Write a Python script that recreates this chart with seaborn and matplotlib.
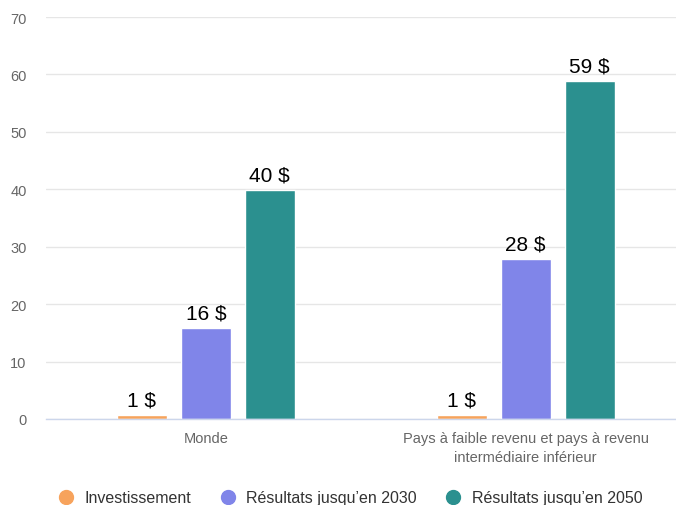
import matplotlib
matplotlib.use("Agg")
import matplotlib.pyplot as plt
import seaborn as sns
import pandas as pd
from matplotlib.lines import Line2D

categories = ["Monde", "Pays à faible revenu et pays à revenu\nintermédiaire inférieur"]
series = ["Investissement", "Résultats jusqu’en 2030", "Résultats jusqu’en 2050"]
investissement = [0.7, 0.7]
res_2030 = [15.8, 27.8]
res_2050 = [39.8, 58.8]
colors = ["#f7a35c", "#8085e9", "#2b908f"]
yticks = [0, 10, 20, 30, 40, 50, 60, 70]

rows = []
for s, vals in zip(series, [investissement, res_2030, res_2050]):
    for c, v in zip(categories, vals):
        rows.append({"cat": c, "serie": s, "val": v})
df = pd.DataFrame(rows)

sns.set_style("white")
plt.rcParams["font.family"] = ["Liberation Sans", "DejaVu Sans"]

fig = plt.figure(figsize=(6.76, 5.06), dpi=100)
ax = fig.add_axes([46/676, 86/506, 1 - 46/676, (420-18)/506])

sns.barplot(data=df, x="cat", y="val", hue="serie", order=categories,
            hue_order=series, palette=colors, width=0.6, gap=0.22,
            saturation=1, ax=ax, legend=False, errorbar=None)

for cont in ax.containers:
    ax.bar_label(cont, labels=[f"{round(b.get_height()):.0f} $" for b in cont],
                 padding=4, fontsize=15, color="#000000")

ax.set_xlim(-0.5, 1.47)
ax.set_ylim(0, 70)
ax.set_yticks(yticks)
ax.set_yticklabels([str(t) for t in yticks])
ax.yaxis.grid(True, color="#e6e6e6", linewidth=1)
ax.set_axisbelow(True)
for sp in ["top", "right", "left"]:
    ax.spines[sp].set_visible(False)
ax.spines["bottom"].set_color("#ccd6eb")
ax.spines["bottom"].set_linewidth(1)
ax.tick_params(axis="y", length=0, pad=14, labelsize=10.5, labelcolor="#666666")
ax.tick_params(axis="x", length=0, pad=9, labelsize=10.5, labelcolor="#666666")
for lab in ax.get_xticklabels():
    lab.set_linespacing(1.4)
ax.set_xlabel("")
ax.set_ylabel("")

handles = [Line2D([0], [0], marker="o", linestyle="", markersize=10,
                  markerfacecolor=c, markeredgecolor=c) for c in colors]
fig.legend(handles, series, loc="center", bbox_to_anchor=(0.512, 1 - 499/506),
           ncol=3, frameon=False, fontsize=11.5, handletextpad=0.15,
           columnspacing=1.3, labelcolor="#333333")

fig.savefig("out.png", dpi=100)
